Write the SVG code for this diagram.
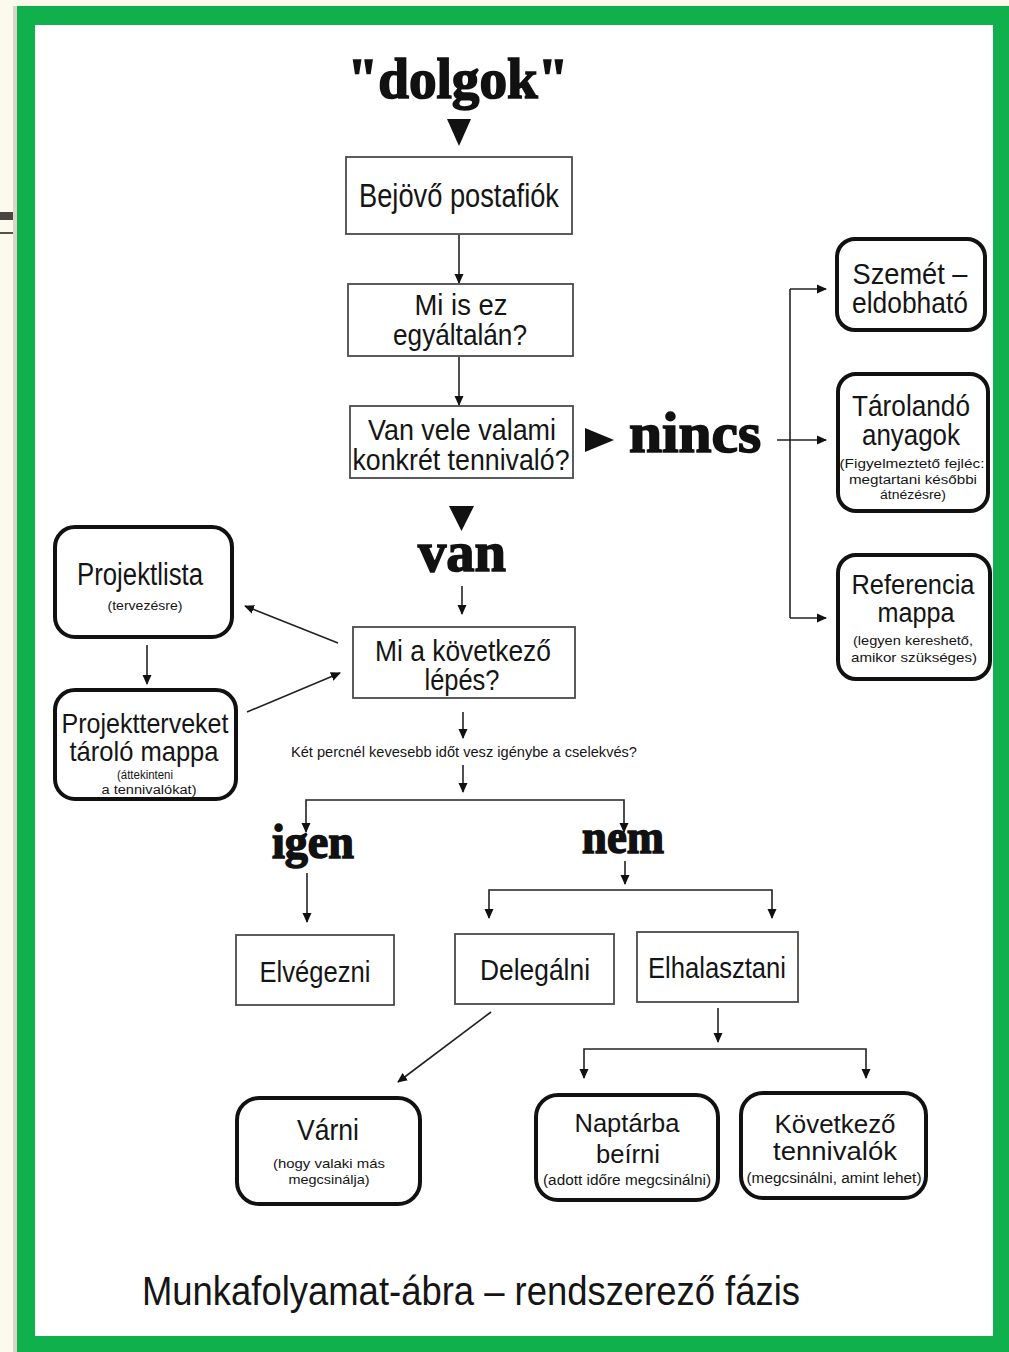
<svg xmlns="http://www.w3.org/2000/svg" width="1009" height="1352" viewBox="0 0 1009 1352">
<defs>
<style>
.t{font-family:"Liberation Sans",Arial,sans-serif;fill:#151515;text-anchor:middle}
.b{font-family:"Liberation Serif","Times New Roman",serif;font-weight:bold;fill:#111;stroke:#111;stroke-width:1.6;text-anchor:middle}
.sq{fill:#fff;stroke:#4a4a4a;stroke-width:1.8}
.rd{fill:#fff;stroke:#111;stroke-width:4}
.c{stroke:#222;stroke-width:1.6;fill:none}
.tri{fill:#111}
</style>
<marker id="ah" viewBox="0 0 10 10" refX="9" refY="5" markerWidth="10" markerHeight="10" markerUnits="userSpaceOnUse" orient="auto">
<path d="M0,0.5 L10,5 L0,9.5 Z" fill="#111"/>
</marker>
</defs>
<rect width="1009" height="1352" fill="#fcfaec"/>
<rect x="0" y="212" width="17" height="8" fill="#4a4541"/>
<rect x="0" y="232" width="17" height="2" fill="#55504c"/>
<rect x="13" y="6" width="4" height="1346" fill="#d8d6c8"/>
<rect x="17" y="6" width="992" height="1346" fill="#10b04c"/>
<rect x="35" y="25" width="958" height="1311" fill="#ffffff"/>

<g id="connectors">
<path class="c" d="M459,235 V283" marker-end="url(#ah)"/>
<path class="c" d="M459,357 V405" marker-end="url(#ah)"/>
<path class="c" d="M777,440 H826" marker-end="url(#ah)"/>
<path class="c" d="M790,289 V618"/>
<path class="c" d="M790,289 H826" marker-end="url(#ah)"/>
<path class="c" d="M790,618 H826" marker-end="url(#ah)"/>
<path class="c" d="M462,586 V614" marker-end="url(#ah)"/>
<path class="c" d="M338,643 L245,606" marker-end="url(#ah)"/>
<path class="c" d="M247,712 L340,673" marker-end="url(#ah)"/>
<path class="c" d="M147,645 V684" marker-end="url(#ah)"/>
<path class="c" d="M463,712 V738" marker-end="url(#ah)"/>
<path class="c" d="M463,765 V792" marker-end="url(#ah)"/>
<path class="c" d="M465,800 H306 V832" marker-end="url(#ah)"/>
<path class="c" d="M465,800 H624 V832" marker-end="url(#ah)"/>
<path class="c" d="M307,873 V922" marker-end="url(#ah)"/>
<path class="c" d="M625,861 V884" marker-end="url(#ah)"/>
<path class="c" d="M630,890 H489 V918" marker-end="url(#ah)"/>
<path class="c" d="M630,890 H772 V918" marker-end="url(#ah)"/>
<path class="c" d="M491,1012 L398,1082" marker-end="url(#ah)"/>
<path class="c" d="M718,1008 V1042" marker-end="url(#ah)"/>
<path class="c" d="M720,1049 H584 V1078" marker-end="url(#ah)"/>
<path class="c" d="M720,1049 H866 V1078" marker-end="url(#ah)"/>
<polygon class="tri" points="447,119 471,119 459,146"/>
<polygon class="tri" points="449,506 474,506 461.5,531"/>
<polygon class="tri" points="585,428 614,440 585,452"/>
</g>

<g id="title">
<text class="b" x="458" y="98" font-size="56" textLength="221" lengthAdjust="spacingAndGlyphs">"dolgok"</text>
</g>

<g id="n-bejovo">
<rect class="sq" x="346" y="157" width="226" height="77"/>
<text class="t" x="459" y="207" font-size="33" textLength="200" lengthAdjust="spacingAndGlyphs">Bejövő postafiók</text>
</g>

<g id="n-miisez">
<rect class="sq" x="348" y="284" width="225" height="72"/>
<text class="t" x="461" y="315" font-size="29" textLength="93" lengthAdjust="spacingAndGlyphs">Mi is ez</text>
<text class="t" x="460" y="345" font-size="29" textLength="134" lengthAdjust="spacingAndGlyphs">egyáltalán?</text>
</g>

<g id="n-van-vele">
<rect class="sq" x="350" y="406" width="223" height="72"/>
<text class="t" x="462" y="440" font-size="29" textLength="188" lengthAdjust="spacingAndGlyphs">Van vele valami</text>
<text class="t" x="461" y="470" font-size="29" textLength="217" lengthAdjust="spacingAndGlyphs">konkrét tennivaló?</text>
</g>

<g id="l-nincs">
<text class="b" x="695" y="452" font-size="56" textLength="132" lengthAdjust="spacingAndGlyphs">nincs</text>
</g>

<g id="n-szemet">
<rect class="rd" x="837" y="239" width="148" height="91" rx="18"/>
<text class="t" x="910" y="284" font-size="29" textLength="115" lengthAdjust="spacingAndGlyphs">Szemét –</text>
<text class="t" x="910" y="313" font-size="29" textLength="116" lengthAdjust="spacingAndGlyphs">eldobható</text>
</g>

<g id="n-tarolando">
<rect class="rd" x="838" y="374" width="150" height="137" rx="18"/>
<text class="t" x="911" y="416" font-size="29" textLength="118" lengthAdjust="spacingAndGlyphs">Tárolandó</text>
<text class="t" x="911" y="445" font-size="29" textLength="98" lengthAdjust="spacingAndGlyphs">anyagok</text>
<text class="t" x="912" y="468" font-size="12.5" textLength="145" lengthAdjust="spacingAndGlyphs">(Figyelmeztető fejléc:</text>
<text class="t" x="913" y="484" font-size="12.5" textLength="128" lengthAdjust="spacingAndGlyphs">megtartani későbbi</text>
<text class="t" x="913" y="499" font-size="12.5" textLength="66" lengthAdjust="spacingAndGlyphs">átnézésre)</text>
</g>

<g id="n-referencia">
<rect class="rd" x="838" y="555" width="152" height="124" rx="18"/>
<text class="t" x="913" y="594" font-size="27" textLength="123" lengthAdjust="spacingAndGlyphs">Referencia</text>
<text class="t" x="916" y="622" font-size="27" textLength="77" lengthAdjust="spacingAndGlyphs">mappa</text>
<text class="t" x="913" y="645" font-size="13" textLength="120" lengthAdjust="spacingAndGlyphs">(legyen kereshető,</text>
<text class="t" x="914" y="662" font-size="13" textLength="126" lengthAdjust="spacingAndGlyphs">amikor szükséges)</text>
</g>

<g id="l-van">
<text class="b" x="462" y="571" font-size="56" textLength="88" lengthAdjust="spacingAndGlyphs">van</text>
</g>

<g id="n-kovetkezo-lepes">
<rect class="sq" x="353" y="627" width="222" height="71"/>
<text class="t" x="463" y="661" font-size="29" textLength="176" lengthAdjust="spacingAndGlyphs">Mi a következő</text>
<text class="t" x="462" y="690" font-size="29" textLength="75" lengthAdjust="spacingAndGlyphs">lépés?</text>
</g>

<g id="n-projektlista">
<rect class="rd" x="55" y="527" width="177" height="110" rx="20"/>
<text class="t" x="140" y="585" font-size="31" textLength="126" lengthAdjust="spacingAndGlyphs">Projektlista</text>
<text class="t" x="145" y="610" font-size="13" textLength="75" lengthAdjust="spacingAndGlyphs">(tervezésre)</text>
</g>

<g id="n-projektterv">
<rect class="rd" x="55" y="690" width="181" height="109" rx="20"/>
<text class="t" x="145" y="733" font-size="28" textLength="167" lengthAdjust="spacingAndGlyphs">Projektterveket</text>
<text class="t" x="144" y="761" font-size="28" textLength="149" lengthAdjust="spacingAndGlyphs">tároló mappa</text>
<text class="t" x="145" y="779" font-size="12" textLength="56" lengthAdjust="spacingAndGlyphs">(áttekinteni</text>
<text class="t" x="149" y="794" font-size="12" textLength="95" lengthAdjust="spacingAndGlyphs">a tennivalókat)</text>
</g>

<g id="l-question">
<text class="t" x="464" y="757" font-size="15" textLength="346" lengthAdjust="spacingAndGlyphs">Két percnél kevesebb időt vesz igénybe a cselekvés?</text>
</g>

<g id="l-igen">
<text class="b" x="313" y="858" font-size="48" textLength="82" lengthAdjust="spacingAndGlyphs">igen</text>
</g>
<g id="l-nem">
<text class="b" x="623" y="853" font-size="48" textLength="82" lengthAdjust="spacingAndGlyphs">nem</text>
</g>

<g id="n-elvegezni">
<rect class="sq" x="236" y="935" width="158" height="70"/>
<text class="t" x="315" y="982" font-size="30" textLength="111" lengthAdjust="spacingAndGlyphs">Elvégezni</text>
</g>
<g id="n-delegalni">
<rect class="sq" x="455" y="934" width="159" height="70"/>
<text class="t" x="535" y="980" font-size="30" textLength="110" lengthAdjust="spacingAndGlyphs">Delegálni</text>
</g>
<g id="n-elhalasztani">
<rect class="sq" x="637" y="932" width="161" height="70"/>
<text class="t" x="717" y="978" font-size="30" textLength="138" lengthAdjust="spacingAndGlyphs">Elhalasztani</text>
</g>

<g id="n-varni">
<rect class="rd" x="237" y="1098" width="183" height="106" rx="22"/>
<text class="t" x="328" y="1140" font-size="30" textLength="62" lengthAdjust="spacingAndGlyphs">Várni</text>
<text class="t" x="329" y="1168" font-size="13" textLength="112" lengthAdjust="spacingAndGlyphs">(hogy valaki más</text>
<text class="t" x="329" y="1184" font-size="13" textLength="81" lengthAdjust="spacingAndGlyphs">megcsinálja)</text>
</g>
<g id="n-naptarba">
<rect class="rd" x="536" y="1095" width="182" height="105" rx="22"/>
<text class="t" x="627" y="1132" font-size="26" textLength="105" lengthAdjust="spacingAndGlyphs">Naptárba</text>
<text class="t" x="628" y="1163" font-size="26" textLength="64" lengthAdjust="spacingAndGlyphs">beírni</text>
<text class="t" x="627" y="1185" font-size="14" textLength="168" lengthAdjust="spacingAndGlyphs">(adott időre megcsinálni)</text>
</g>
<g id="n-kovetkezo">
<rect class="rd" x="741" y="1093" width="185" height="105" rx="22"/>
<text class="t" x="835" y="1133" font-size="26" textLength="121" lengthAdjust="spacingAndGlyphs">Következő</text>
<text class="t" x="835" y="1160" font-size="26" textLength="124" lengthAdjust="spacingAndGlyphs">tennivalók</text>
<text class="t" x="834" y="1183" font-size="14" textLength="175" lengthAdjust="spacingAndGlyphs">(megcsinálni, amint lehet)</text>
</g>

<g id="caption">
<text class="t" x="471" y="1305" font-size="40" textLength="658" lengthAdjust="spacingAndGlyphs">Munkafolyamat-ábra – rendszerező fázis</text>
</g>
</svg>
